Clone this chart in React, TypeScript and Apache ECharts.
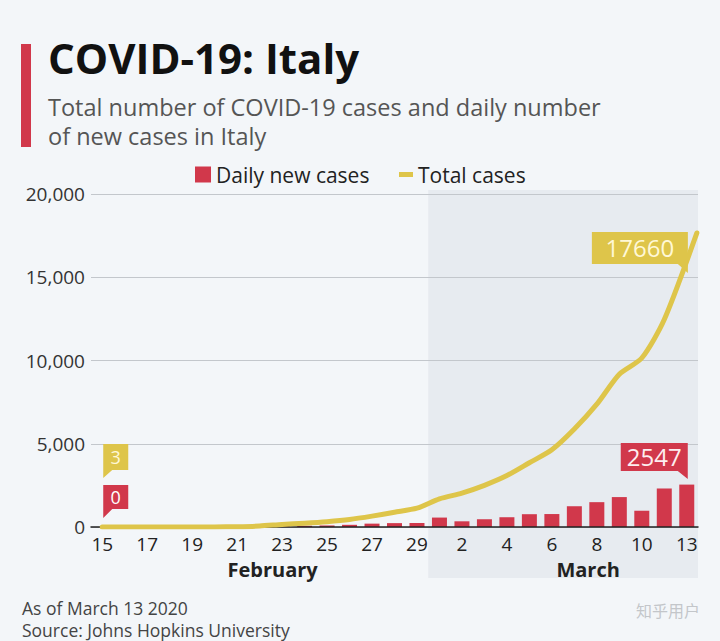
import React, { useEffect, useRef } from 'react';
import * as echarts from 'echarts';

// Category labels: Feb 15 – Feb 29, then Mar 1 – Mar 11 and Mar 13 (Mar 12 missing in source)
const categories = [
  '15', '16', '17', '18', '19', '20', '21', '22', '23', '24', '25', '26', '27', '28', '29',
  '1', '2', '3', '4', '5', '6', '7', '8', '9', '10', '11', '13',
];
const dailyNewCases = [
  0, 0, 0, 0, 0, 0, 17, 42, 93, 74, 93, 131, 202, 233, 240,
  566, 342, 466, 587, 769, 778, 1247, 1492, 1797, 977, 2313, 2547,
];
const totalCases = [
  3, 3, 3, 3, 3, 3, 20, 62, 155, 229, 322, 453, 655, 888, 1128,
  1694, 2036, 2502, 3089, 3858, 4636, 5883, 7375, 9172, 10149, 12462, 17660,
];
// horizontal position (in category units) of each total-cases point; the last one is drawn at the plot's right edge
const totalX = [
  0, 1, 2, 3, 4, 5, 6, 7, 8, 9, 10, 11, 12, 13, 14,
  15, 16, 17, 18, 19, 20, 21, 22, 23, 24, 25, 26.45,
];
const monthLabels = ['February', 'March'];
const seriesNames = ['Daily new cases', 'Total cases'];

const RED = '#d1384b';
const YELLOW = '#dec54a';
const BG = '#f3f6f9';
const SHADE = '#e7ebf0';
const FONT = '"Open Sans", "Noto Sans", sans-serif';

export default function App() {
  const ref = useRef<HTMLDivElement>(null);

  useEffect(() => {
    const chart = echarts.init(ref.current!, null, { renderer: 'svg' });
    const lineData = totalCases.map((v, i) => [totalX[i], v]);
    const last = lineData.length - 1;

    const option: any = {
      animation: false,
      backgroundColor: BG,
      textStyle: { fontFamily: FONT },
      title: {
        text: 'COVID-19: Italy',
        subtext: 'Total number of COVID-19 cases and daily number\nof new cases in Italy',
        left: 48,
        top: 36,
        padding: 0,
        itemGap: 14,
        textStyle: { fontSize: 42, fontWeight: 'bold', color: '#111', fontFamily: FONT },
        subtextStyle: { fontSize: 23.5, color: '#555', lineHeight: 29, fontFamily: FONT },
      },
      legend: [
        {
          data: [seriesNames[0]],
          left: 195,
          top: 164,
          padding: 0,
          icon: 'rect',
          itemWidth: 16,
          itemHeight: 16,
          textStyle: { fontSize: 21, color: '#222', fontFamily: FONT },
        },
        {
          data: [seriesNames[1]],
          left: 399,
          top: 164,
          padding: 0,
          icon: 'rect',
          itemWidth: 14,
          itemHeight: 5,
          textStyle: { fontSize: 21, color: '#222', fontFamily: FONT },
        },
      ],
      grid: { left: 91, right: 22, top: 194, bottom: 114 },
      xAxis: [
        {
          type: 'category',
          data: categories,
          boundaryGap: true,
          axisLine: { lineStyle: { color: '#222', width: 1.5 } },
          axisTick: { show: false },
          axisLabel: {
            interval: 1,
            fontSize: 19,
            lineHeight: 19,
            color: '#222',
            margin: 7,
            fontFamily: FONT,
          },
          splitLine: { show: false },
          z: 3,
        },
        {
          type: 'value',
          min: -0.5,
          max: 26.5,
          show: false,
          splitLine: { show: false },
        },
      ],
      yAxis: {
        type: 'value',
        min: 0,
        max: 20000,
        interval: 5000,
        axisLine: { show: false },
        axisTick: { show: false },
        axisLabel: {
          fontSize: 19,
          color: '#333',
          margin: 6,
          fontFamily: FONT,
          formatter: (v: number) => v.toLocaleString('en-US'),
        },
        splitLine: { lineStyle: { color: '#c3c7cc', width: 1 } },
      },
      series: [
        {
          name: seriesNames[0],
          type: 'bar',
          xAxisIndex: 0,
          data: dailyNewCases,
          barWidth: 15,
          itemStyle: { color: RED },
          markPoint: {
            symbolKeepAspect: false,
            itemStyle: { color: RED },
            label: {
              show: true,
              color: '#fff',
              fontFamily: FONT,
              formatter: (p: any) => String(p.value),
            },
            data: [
              {
                coord: [categories[0], dailyNewCases[0]],
                value: dailyNewCases[0],
                symbol: 'path://M0,0H25V24H9L0,33Z',
                symbolSize: [25, 33],
                symbolOffset: [13.5, -25.5],
                label: { fontSize: 18, offset: [0, -4.5] },
              },
              {
                type: 'max',
                symbol: 'path://M0,0H67V36L57,28H0Z',
                symbolSize: [67, 36],
                symbolOffset: [-32.5, -23.6],
                label: { fontSize: 24, offset: [0, -4], color: '#fdeef0' },
              },
            ],
          },
        },
        {
          name: seriesNames[1],
          type: 'line',
          xAxisIndex: 1,
          yAxisIndex: 0,
          data: lineData,
          symbol: 'none',
          showSymbol: false,
          smooth: 0.25,
          itemStyle: { color: YELLOW },
          lineStyle: { color: YELLOW, width: 5, cap: 'round', join: 'round' },
          z: 4,
          markPoint: {
            symbolKeepAspect: false,
            itemStyle: { color: YELLOW },
            label: {
              show: true,
              color: '#fff8d6',
              fontFamily: FONT,
              formatter: (p: any) => String(p.value),
            },
            data: [
              {
                coord: lineData[0],
                value: totalCases[0],
                symbol: 'path://M0,0H25V26H9L0,34Z',
                symbolSize: [25, 34],
                symbolOffset: [13.5, -66],
                label: { fontSize: 18, offset: [0, -4] },
              },
              {
                coord: lineData[last],
                value: totalCases[last],
                symbol: 'path://M0,0H96V41L86,32H0Z',
                symbolSize: [96, 41],
                symbolOffset: [-57, 19.5],
                label: { fontSize: 24, offset: [0, -4.5] },
              },
            ],
          },
        },
      ],
    };

    chart.setOption(option);

    const x0 = chart.convertToPixel({ xAxisIndex: 1 }, 14.5) as number;
    const x1 = chart.convertToPixel({ xAxisIndex: 1 }, 26.5) as number;
    const xMid = (a: number, b: number) =>
      ((chart.convertToPixel({ xAxisIndex: 1 }, a) as number) +
        (chart.convertToPixel({ xAxisIndex: 1 }, b) as number)) / 2;
    const yTop = chart.convertToPixel({ yAxisIndex: 0 }, 20000) as number;

    chart.setOption({
      graphic: [
        {
          type: 'rect',
          id: 'shade',
          z: -10,
          silent: true,
          shape: { x: x0, y: yTop - 4, width: x1 - x0, height: 578 - (yTop - 4) },
          style: { fill: SHADE },
        },
        {
          type: 'rect',
          id: 'titlebar',
          shape: { x: 21, y: 44, width: 10, height: 103 },
          style: { fill: RED },
        },
        {
          type: 'text',
          id: 'feb',
          x: xMid(-0.5, 14.5) + 13,
          y: 569,
          style: {
            text: monthLabels[0],
            fontSize: 20,
            lineHeight: 20,
            fontWeight: 'bold',
            fontFamily: FONT,
            fill: '#222',
            align: 'center',
            verticalAlign: 'middle',
          },
        },
        {
          type: 'text',
          id: 'mar',
          x: xMid(14.5, 26.5) + 25,
          y: 569,
          style: {
            text: monthLabels[1],
            fontSize: 20,
            lineHeight: 20,
            fontWeight: 'bold',
            fontFamily: FONT,
            fill: '#222',
            align: 'center',
            verticalAlign: 'middle',
          },
        },
        {
          type: 'text',
          id: 'asof',
          x: 22,
          y: 608,
          style: {
            text: 'As of March 13 2020',
            fontSize: 17.5,
            fontFamily: FONT,
            fill: '#444',
            verticalAlign: 'middle',
          },
        },
        {
          type: 'text',
          id: 'source',
          x: 22,
          y: 630,
          style: {
            text: 'Source: Johns Hopkins University',
            fontSize: 17.5,
            fontFamily: FONT,
            fill: '#444',
            verticalAlign: 'middle',
          },
        },
        {
          type: 'text',
          id: 'wm',
          x: 700,
          y: 610,
          style: {
            text: '知乎用户',
            fontSize: 16,
            fontFamily: '"Noto Sans CJK SC", sans-serif',
            fill: '#c3c6ca',
            align: 'right',
            verticalAlign: 'middle',
          },
        },
      ],
    });

    return () => chart.dispose();
  }, []);

  return (
    <div
      ref={ref}
      style={{ position: 'fixed', left: 0, top: 0, width: 720, height: 641, background: BG }}
    />
  );
}
